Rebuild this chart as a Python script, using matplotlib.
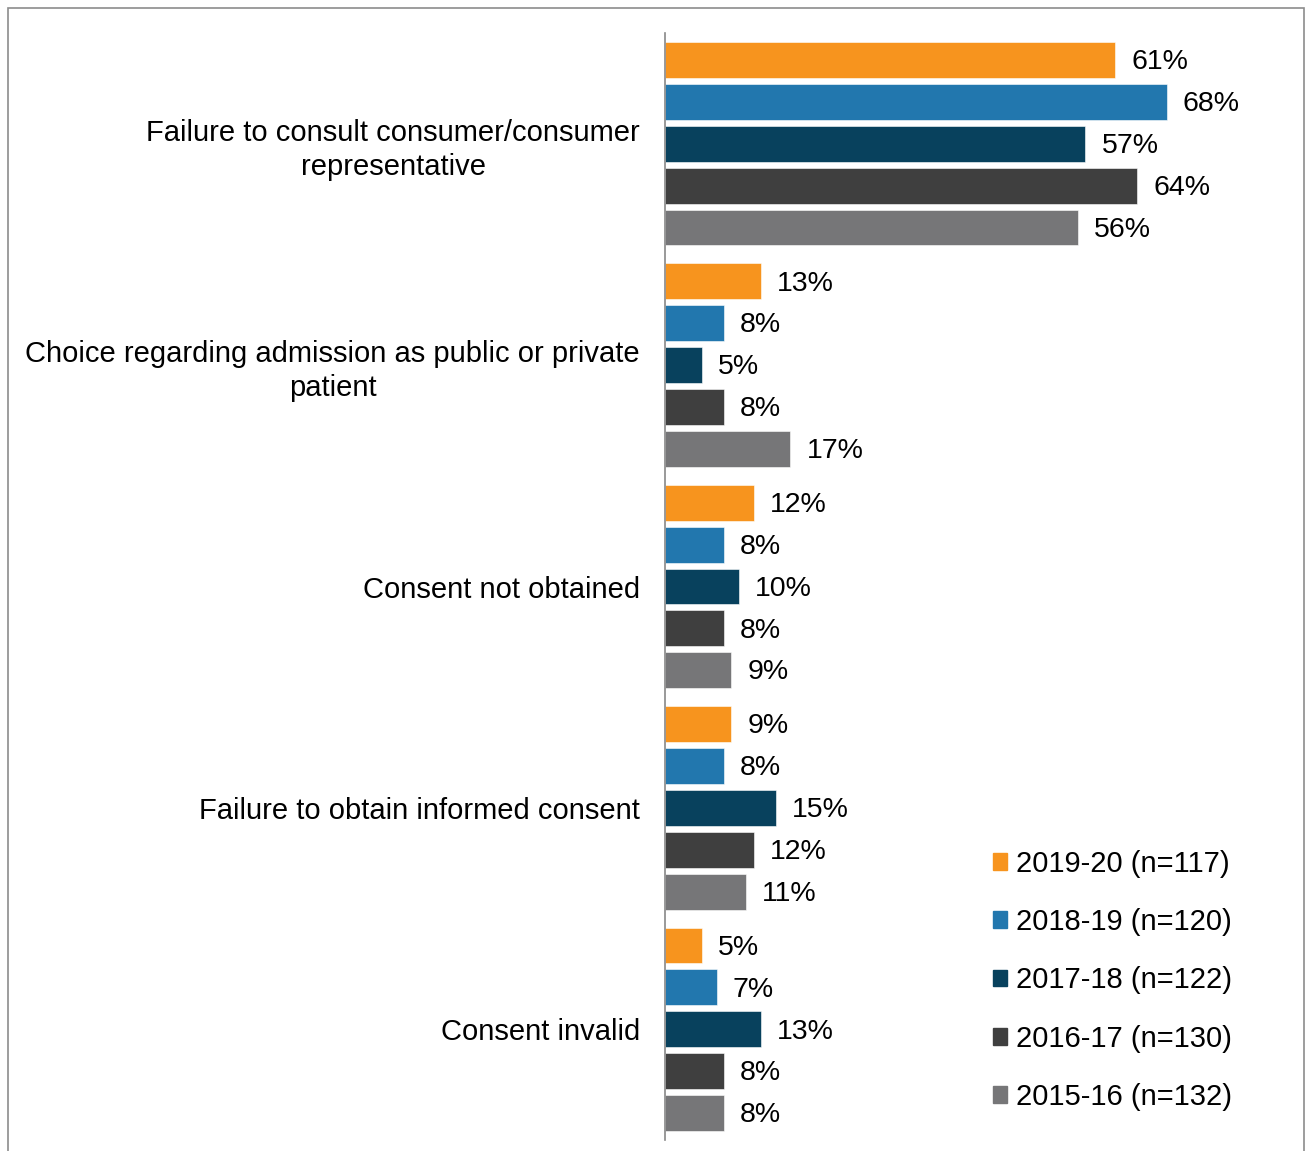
import matplotlib.pyplot as plt
import matplotlib.patches as mpatches
import numpy as np

plt.rcParams['font.family'] = ['Liberation Sans', 'DejaVu Sans']

categories = [
    "Failure to consult consumer/consumer\nrepresentative",
    "Choice regarding admission as public or private\npatient",
    "Consent not obtained",
    "Failure to obtain informed consent",
    "Consent invalid",
]
series = ["2019-20 (n=117)", "2018-19 (n=120)", "2017-18 (n=122)",
          "2016-17 (n=130)", "2015-16 (n=132)"]
values = [
    [61, 13, 12, 9, 5],
    [68, 8, 8, 8, 7],
    [57, 5, 10, 15, 13],
    [64, 8, 8, 12, 8],
    [56, 17, 9, 11, 8],
]
colors = ["#F7941E", "#2277AE", "#08415D", "#3F3F3F", "#767678"]

W, H = 1306, 1151
fig = plt.figure(figsize=(W / 100, H / 100), dpi=100)
ax = fig.add_axes([665 / W, 1 - 1140 / H, (1255 - 665) / W, (1140 - 33) / H])

fs = 21
slot = 42 / 222
bh = 36 / 222
y = np.arange(len(categories))

for j, (name, vals, c) in enumerate(zip(series, values, colors)):
    pos = y + (j - 2) * slot
    bars = ax.barh(pos, vals, height=bh, color=c, label=name,
                   edgecolor="white", linewidth=0.4)
    for b, v in zip(bars, vals):
        ax.text(b.get_width() + 2.2, b.get_y() + b.get_height() / 2 + 0.01,
                f"{v}%", va="center", ha="left", fontsize=20.5)

ax.set_xlim(0, 80)
ax.set_ylim(len(categories) - 0.5, -0.5)
ax.set_yticks(y)
ax.set_yticklabels(categories, fontsize=fs, multialignment="center",
                   linespacing=1.28)
ax.tick_params(axis="y", length=0, pad=18)
ax.set_xticks([])
for s in ["top", "right", "bottom"]:
    ax.spines[s].set_visible(False)
ax.spines["left"].set_color("#888888")
ax.spines["left"].set_linewidth(1.2)

handles = [mpatches.Patch(color=c, label=n) for n, c in zip(series, colors)]
fig.legend(handles=handles, loc="upper left",
           bbox_to_anchor=(978 / W, 1 - 835 / H), frameon=False,
           fontsize=fs, handlelength=0.5, handleheight=0.5,
           handletextpad=0.3, labelspacing=1.04, borderpad=0)

border = mpatches.Rectangle((8 / W, -0.02), (1304 - 8) / W, 1 - 8 / H + 0.02,
                            transform=fig.transFigure, fill=False,
                            edgecolor="#8c8c8c", linewidth=1.2)
fig.patches.append(border)

fig.savefig("out.png", dpi=100)
